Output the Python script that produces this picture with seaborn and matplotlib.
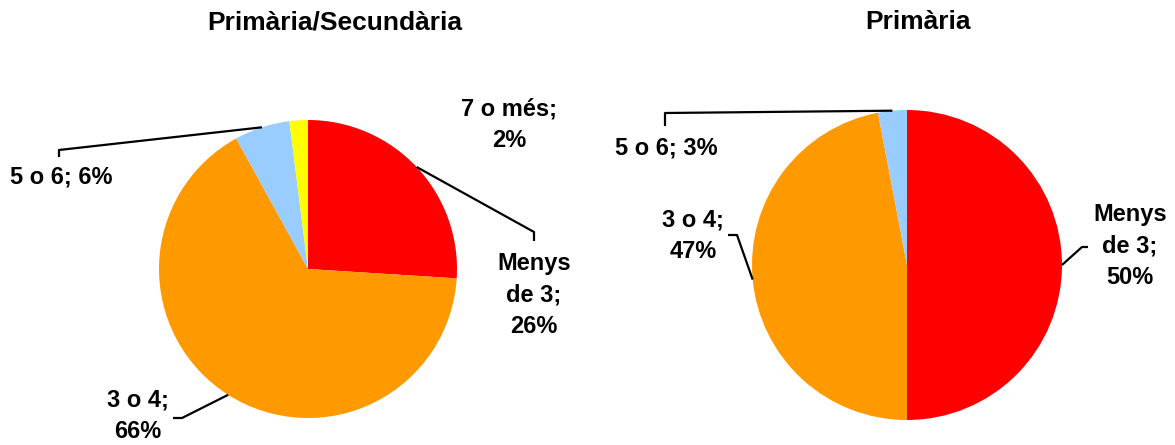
import numpy as np
import matplotlib
matplotlib.use("Agg")
import matplotlib.pyplot as plt
import seaborn as sns

# data
categories = ["Menys de 3", "3 o 4", "5 o 6", "7 o més"]
colors = ["#FF0000", "#FF9900", "#99CCFF", "#FFFF00"]

ps_values = [26, 66, 6, 2]      # Primària/Secundària
p_values = [50, 47, 3]          # Primària

sns.set_theme(style="white")
plt.rcParams['font.family'] = ['Liberation Sans', 'DejaVu Sans']

H = 445
FS = 17
fig = plt.figure(figsize=(11.75, 4.45), dpi=100)
ax = fig.add_axes([0, 0, 1, 1])


def rim_point(w):
    # point on the rim at the middle of a wedge
    a = np.deg2rad((w.theta1 + w.theta2) / 2)
    return w.center[0] + w.r * np.cos(a), w.center[1] + w.r * np.sin(a)


def leader(w, pts):
    x0, y0 = rim_point(w)
    xs = [x0] + [p[0] for p in pts]
    ys = [y0] + [H - p[1] for p in pts]
    ax.plot(xs, ys, color="black", lw=1.6, solid_capstyle="butt")


def label(x, y, s, **kw):
    ax.text(x, H - y, s, ha=kw.pop("ha", "center"), va="center", fontsize=FS,
            fontweight="bold", color="black", linespacing=1.45, **kw)


# left pie
w1, _ = ax.pie(ps_values, colors=colors[:len(ps_values)], startangle=90,
               counterclock=False, center=(308, H - 269), radius=149,
               frame=True, wedgeprops=dict(linewidth=0))
# right pie
w2, _ = ax.pie(p_values, colors=colors[:len(p_values)], startangle=90,
               counterclock=False, center=(907, H - 265), radius=155,
               frame=True, wedgeprops=dict(linewidth=0))

ax.set_xlim(0, 1175)
ax.set_ylim(0, H)
ax.set_aspect("equal")
ax.axis("off")

# left labels
leader(w1[0], [(534, 232), (534, 241)])
label(534, 295, "Menys\nde 3;\n26%")
leader(w1[1], [(182, 418), (173, 418)])
label(138, 416, "3 o 4;\n66%")
leader(w1[2], [(59, 150), (59, 157)])
label(112, 177, "5 o 6; 6%", ha="right")
label(509, 125, "7 o més;\n2%")

# right labels
leader(w2[0], [(1082, 247), (1088, 247)])
label(1130, 246, "Menys\nde 3;\n50%")
leader(w2[1], [(737, 235), (728, 235)])
label(693, 236, "3 o 4;\n47%")
leader(w2[2], [(665, 113), (665, 126)])
label(666, 148, "5 o 6; 3%")

# titles
ax.text(335, H - 22, "Primària/Secundària", ha="center", va="center",
        fontsize=19, fontweight="bold", color="black")
ax.text(918, H - 22, "Primària", ha="center", va="center",
        fontsize=19, fontweight="bold", color="black")

fig.savefig("out.png", dpi=100, facecolor="white")
